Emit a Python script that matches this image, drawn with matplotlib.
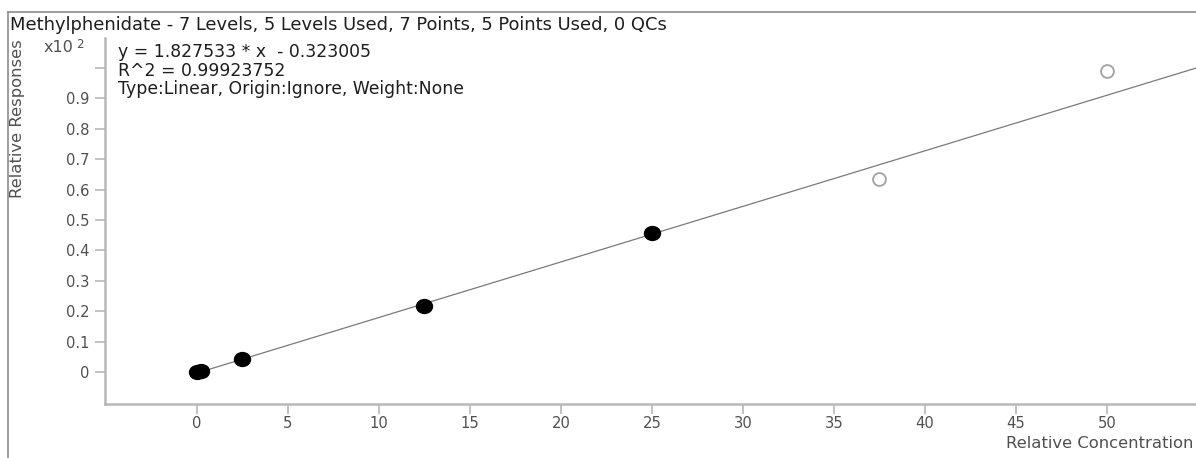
import matplotlib
matplotlib.use("Agg")
import matplotlib.pyplot as plt
import numpy as np
from matplotlib.lines import Line2D
from matplotlib.markers import MarkerStyle
from matplotlib.transforms import Affine2D

plt.rcParams['font.family'] = ['DejaVu Sans']

# Calibration data (concentration, response in units of x10^2)
used_conc = [0.0, 0.25, 2.5, 12.5, 25.0]
used_resp = [0.0, 0.004, 0.042, 0.217, 0.458]
excluded_conc = [37.5, 50.0]
excluded_resp = [0.635, 0.99]

slope = 1.827533
intercept = -0.323005
r_squared = 0.99923752

title = "Methylphenidate - 7 Levels, 5 Levels Used, 7 Points, 5 Points Used, 0 QCs"
x_ticks = [0, 5, 10, 15, 20, 25, 30, 35, 40, 45, 50]
y_ticks = [0, 0.1, 0.2, 0.3, 0.4, 0.5, 0.6, 0.7, 0.8, 0.9, 1.0]
y_tick_labels = ["0", "0.1", "0.2", "0.3", "0.4", "0.5", "0.6", "0.7", "0.8", "0.9", ""]

W, H = 1196, 458
fig = plt.figure(figsize=(W / 100, H / 100), dpi=100)

axis_grey = "#b8b8b8"
text_grey = "#505050"
tick_fs = 10.6

# outer frame (top and left border)
fig.add_artist(Line2D([8 / W, 1.0], [1 - 12 / H, 1 - 12 / H], color="#8c8c8c", lw=1.2))
fig.add_artist(Line2D([8 / W, 8 / W], [0, 1 - 12 / H], color="#8c8c8c", lw=1.2))

ax = fig.add_axes([105 / W, 1 - 404 / H, 1 - 105 / W, (404 - 38) / H])
ax.set_xlim(-5.05, 54.9)
ax.set_ylim(-0.105, 1.099)

for side in ["top", "right"]:
    ax.spines[side].set_visible(False)
for side in ["left", "bottom"]:
    ax.spines[side].set_color(axis_grey)
    ax.spines[side].set_linewidth(1.8)

ax.set_xticks(x_ticks)
ax.set_xticklabels([str(t) for t in x_ticks])
ax.set_yticks(y_ticks)
ax.set_yticklabels(y_tick_labels)
ax.tick_params(axis="both", colors=axis_grey, labelcolor=text_grey, labelsize=tick_fs,
               length=7, width=1.2, direction="out")
ax.tick_params(axis="x", pad=2)
ax.tick_params(axis="y", pad=4)

# regression line
xl = np.array([0.0, 54.9])
ax.plot(xl, (slope * xl + intercept) / 100.0, color="#7a7a7a", lw=0.9, zorder=2)

# slightly wide dots for the used standards
dot = MarkerStyle("o", transform=Affine2D().scale(1.15, 1.0))
ax.scatter(used_conc, used_resp, s=100, marker=dot, facecolor="black",
           edgecolor="black", zorder=3)
ax.scatter(excluded_conc, excluded_resp, s=85, marker="o", facecolor="white",
           edgecolor="#a6a6a6", linewidth=1.4, zorder=3)

fig.text(10 / W, 1 - 25 / H, title, fontsize=12.9, color="#1e1e1e", va="center", ha="left")

info = [f"y = {slope:.6f} * x  - {abs(intercept):.6f}",
        f"R^2 = {r_squared:.8f}",
        "Type:Linear, Origin:Ignore, Weight:None"]
for i, line in enumerate(info):
    fig.text(118 / W, 1 - (52 + 18.5 * i) / H, line, fontsize=12.4, color="#1e1e1e",
             va="center", ha="left")

fig.text(44 / W, 1 - 48 / H, "x10", fontsize=11.5, color=text_grey, va="center", ha="left")
fig.text(76 / W, 1 - 44 / H, "2", fontsize=8.5, color=text_grey, va="center", ha="left")

fig.text(18 / W, 1 - 119 / H, "Relative Responses", rotation=90, fontsize=11.8,
         color=text_grey, va="center", ha="center")
fig.text(1193 / W, 1 - 443 / H, "Relative Concentration", fontsize=11.8,
         color=text_grey, va="center", ha="right")

fig.savefig("out.png", dpi=100)
